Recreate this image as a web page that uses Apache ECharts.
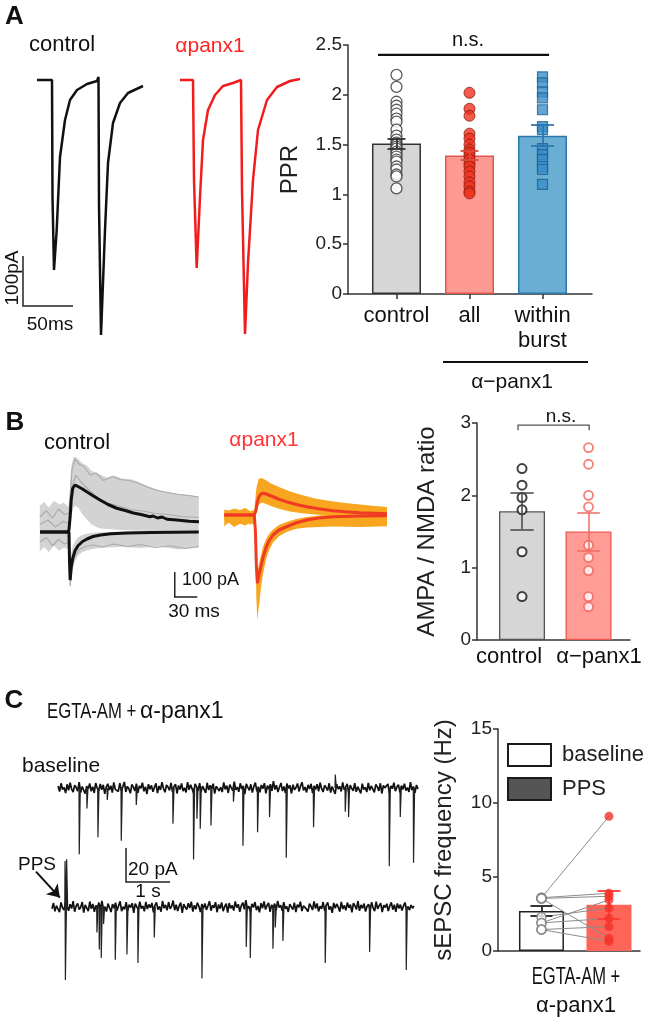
<!DOCTYPE html>
<html><head><meta charset="utf-8">
<script src="https://cdn.jsdelivr.net/npm/echarts@6/dist/echarts.min.js"></script>
<style>html,body{margin:0;padding:0;background:#fff}#c{width:656px;height:1020px}</style>
</head><body><div id="c"></div>
<script>
// ================= DATA =================
// ---- Panel A: paired-pulse traces (t in ms, current in pA) ----
const traceAControl = [[37,0],[52,0],[52.5,-234],[54,-380],[56.7,-300],[60,-154],[65,-80],[70,-40],[77,-20],[87,-8],[97,-2],[98,0],[98.5,6],[99,-250],[101,-510],[105,-300],[108,-166],[113,-86],[120,-46],[128,-26],[143,-12]];
const traceAPanx = [[180,0],[193,0],[194,-200],[196.7,-376],[200,-234],[203,-120],[208,-60],[215,-30],[223,-12],[233,-6],[241,0],[241.5,4],[242,-220],[245,-508],[248,-366],[253,-200],[258,-100],[267,-40],[277,-14],[290,-2],[300,2]];
const scaleBarA = [23, -452, 50, 100];           // t0, v0, 50 ms, 100 pA
// ---- Panel A: PPR bar chart ----
const pprCategories = ['control', 'all', 'within\nburst'];
const pprMeans = [1.51, 1.39, 1.59];
const pprSems = [0.05, 0.045, 0.105];
const pprControl = [2.2,2.08,1.93,1.89,1.85,1.81,1.76,1.73,1.65,1.59,1.55,1.52,1.5,1.48,1.46,1.43,1.41,1.38,1.35,1.33,1.28,1.25,1.2,1.18,1.06];
const pprAll = [2.02,1.86,1.79,1.61,1.56,1.5,1.45,1.42,1.39,1.35,1.31,1.28,1.23,1.18,1.12,1.08,1.03,1.01];
const pprBurst = [2.18,2.12,2.03,1.97,1.85,1.68,1.65,1.46,1.4,1.35,1.28,1.25,1.1];
const pprSigLevel = 2.4;
// ---- Panel B: AMPA/NMDA traces (t in ms from stimulus, pA) ----
const traceBCtrlUp = [[-38.7,0],[-1,0],[0,10],[1.5,60],[3,130],[5,175],[8,188],[12,182],[18,172],[23.6,161],[32,145],[41.3,128],[52,110],[63.6,95],[75,86],[85.8,76],[96,70],[108,61],[112,64],[118,56],[124,60],[130.7,51],[140,49],[150,46],[160,43],[173.3,41]];
const traceBCtrlDown = [[-38.7,0],[0,0],[0.7,-120],[1.5,-192],[3,-140],[5,-105],[8,-75],[12,-55],[18,-38],[24,-28],[32,-18],[42,-12],[56,-7],[78,-4],[110,-2],[173,0]];
const greyUpperBand = [[-39,10,105],[-33,0,120],[-27,8,98],[-20,-5,125],[-13,6,110],[-7,-3,118],[-1,5,100],[1,10,160],[3,60,260],[6,100,300],[9,105,300],[13,95,290],[18,70,275],[24,50,265],[30,30,245],[40,15,232],[50,12,218],[60,10,226],[70,8,214],[85,6,210],[100,5,190],[115,4,172],[130,3,160],[145,2,152],[160,2,148],[173,1,142]];
const greyLowerBand = [[-39,-78,4],[-33,-60,8],[-27,-80,2],[-20,-55,6],[-13,-75,10],[-7,-62,3],[-1,-70,6],[0.5,-120,-10],[1.5,-228,-110],[3,-200,-85],[5,-150,-55],[8,-118,-38],[12,-95,-22],[18,-80,-12],[25,-72,-6],[35,-66,-2],[50,-62,0],[70,-60,2],[95,-64,3],[120,-58,2],[145,-70,4],[173,-62,2]];
const greyTraces = [
  [[-39,60],[-30,85],[-22,55],[-14,92],[-6,70],[0,75],[4,250],[8,292],[14,270],[20,262],[28,228],[36,236],[46,206],[58,222],[68,210],[80,206],[92,196],[104,180],[118,166],[132,158],[146,150],[160,146],[173,140]],
  [[-39,-40],[-30,-22],[-22,-55],[-14,-30],[-6,-48],[0,-40],[1.5,-215],[4,-130],[8,-95],[14,-70],[22,-58],[32,-52],[45,-60],[60,-48],[78,-58],[96,-50],[115,-62],[135,-55],[155,-66],[173,-58]],
  [[-39,30],[-28,48],[-18,20],[-8,42],[0,35],[4,180],[9,228],[16,200],[26,170],[38,138],[52,116],[66,104],[82,90],[98,84],[115,74],[132,70],[150,62],[173,58]]
];
const traceBPanxUp = [[-41,0],[-1,0],[1,15],[3,50],[5,72],[8,84],[11,87],[16,83],[24,73],[32,63],[42,53],[55,42],[69,33],[85,25],[104,17],[120,13],[140,9],[160,7],[176,5]];
const traceBPanxDown = [[-41,0],[-1,0],[0.5,-60],[1.8,-200],[3.1,-273],[5,-245],[8,-205],[11,-167],[15,-128],[19,-102],[24,-80],[32,-60],[42,-47],[55,-31],[69,-20],[85,-12],[104,-7],[140,-4],[176,-3]];
const orangeUpperBand = [[-41,-20,22],[-35,-30,18],[-28,-15,26],[-20,-35,20],[-13,-18,28],[-6,-40,15],[-1,-20,20],[2,10,110],[5,40,145],[9,50,148],[14,45,140],[22,35,125],[32,25,112],[45,15,96],[60,8,82],[80,2,66],[100,-2,56],[120,-6,48],[140,-8,42],[160,-10,36],[176,-12,32]];
const orangeLowerBand = [[-41,-45,5],[-35,-30,8],[-28,-48,3],[-20,-35,6],[-13,-42,4],[-6,-30,8],[-1,-40,5],[0.5,-120,-10],[1.8,-330,-150],[3.1,-420,-230],[5,-370,-200],[8,-290,-160],[11,-230,-125],[15,-175,-95],[19,-140,-75],[24,-110,-58],[32,-85,-40],[42,-68,-28],[55,-55,-16],[69,-50,-8],[85,-48,-2],[104,-46,2],[140,-48,4],[176,-45,6]];
const scaleBarB = [141, -260, 30, 100];          // t0, v0, 30 ms, 100 pA
// ---- Panel B: AMPA/NMDA ratio bars ----
const ampaCategories = ['control', 'α−panx1'];
const ampaMeans = [1.78, 1.5];
const ampaSems = [0.25, 0.26];
const ampaControl = [2.37, 2.14, 1.97, 1.8, 1.22, 0.6];
const ampaPanx = [2.66, 2.43, 2.0, 1.84, 1.31, 1.14, 0.96, 0.6, 0.46];
const ampaSig = [-0.06, 1.01, 2.9, 2.97];        // x from, x to, tick bottom, bracket top
// ---- Panel C: sEPSC traces (t in s, pA) ----
const baseTraceSpan = [1.32, 9.5];
const noiseBase = [
 1.2,-2.1,2.8,-0.9,0.4,-3.0,2.2,-1.4,3.1,-0.6, -2.4,1.7,0.3,-1.8,3.5,-2.6,0.9,2.0,-3.3,1.1,
 -0.5,2.7,-1.9,0.8,-2.9,3.0,-0.2,-1.6,2.4,-1.0, 1.9,-3.4,0.6,2.5,-1.2,1.4,-2.7,3.3,-0.8,0.2,
 -2.0,2.9,-1.5,0.7,3.6,-2.3,1.0,-0.4,-3.1,2.1, 0.5,-1.7,2.6,-2.8,1.3,-0.1,3.2,-1.9,0.8,-3.5,
 2.3,-0.7,1.6,-2.2,0.4,2.8,-3.0,1.2,-1.1,3.4, -0.3,-2.5,1.8,0.6,-1.4,3.0,-2.4,0.9,2.2,-3.2,
 1.5,-0.9,2.7,-1.8,0.1,-2.6,3.5,-1.0,1.9,-0.5, -3.0,2.4,0.7,-1.6,2.9,-2.1,1.1,0.3,-2.8,3.1,
 -1.2,1.6,-0.4,2.6,-3.3,1.0,2.1,-1.7,0.5,-2.4, 3.3,-0.8,1.4,-2.9,2.0,0.2,-1.5,3.7,-1.1,0.6,
 -2.2,2.8,-0.6,1.2,-3.6,2.5,0.4,-1.3,2.2,-2.7, 1.0,3.2,-1.9,0.7,-2.5,1.8,-0.3,2.9,-3.1,1.4,
 -0.7,2.3,-1.6,4.1,-0.9,1.7,-2.3,0.5,3.0,-1.8, 0.9,-2.9,2.6,-0.2,1.5,-3.2,2.0,-1.1,0.3,2.7,
 -2.0,1.1,3.4,-1.4,0.6,-2.6,1.9,-0.5,2.5,-3.0, 1.3,-0.8,2.2,-1.9,3.1,-0.4,-2.3,1.6,0.2,-1.5,
 2.8,-2.7,0.9,1.5,-3.4,2.3,-0.6,1.0,-2.0,3.3, -1.1,0.5,2.4,-2.8,1.7,-0.3,-1.6,2.9,-2.2,0.8,
 1.9,-3.1,2.6,-0.9,0.4,-2.4,3.0,-1.3,1.2,-0.6, -2.5,2.1,0.7,-1.7,2.8,-3.2,1.5,0.1,-1.0,2.4,
 -2.9,1.3,-0.4,3.2,-1.8,0.6,2.0,-2.6,1.4,-0.8, 2.6,-1.5,0.3,-2.3,3.5,-1.2,0.9,-2.8,1.8,-0.5];
const spikesBase = [[1.795,-39],[1.97,-12],[2.22,-29],[2.432,-7],[2.75,-31],[3.091,-10],[3.925,-21],[4.393,-42],[4.47,-18],[4.545,-24],[4.789,-22],[5.3,-8],[5.516,-34],[5.848,-26],[6.12,-17],[6.5,-41],[7.12,-23],[7.614,8],[7.841,-14],[7.916,-17],[8.841,-46],[9.091,-17],[9.393,-44]];
const ppsTraceSpan = [1.18, 9.41];
const noisePPS = [
 -1.0,2.4,-2.6,0.8,1.9,-3.1,2.7,-0.5,-1.8,3.0, 0.4,-2.2,1.6,-0.9,3.4,-2.8,0.6,2.1,-1.5,-0.2,
 2.9,-3.3,1.2,0.5,-2.4,3.2,-1.1,1.8,-2.9,0.9, -0.6,2.6,-1.9,3.6,-1.3,0.2,-2.7,2.0,1.1,-3.0,
 1.7,-0.8,2.5,-2.1,0.7,3.3,-2.5,0.1,-1.4,2.8, -2.3,1.4,-0.3,2.2,-3.5,1.9,0.8,-1.7,3.1,-0.9,
 0.6,-2.6,3.0,-1.2,1.5,-0.4,2.4,-3.2,1.0,2.7, -1.6,0.3,-2.8,3.5,-0.7,1.2,-2.0,2.9,-1.1,0.4,
 3.8,-1.9,1.3,-2.4,0.6,2.6,-3.4,1.7,-0.2,-1.5, 2.2,-0.6,3.1,-2.7,1.0,-1.3,2.5,0.4,-3.0,1.8,
 -0.9,2.0,-1.7,0.7,3.4,-2.2,1.1,-0.5,2.8,-3.1, 1.5,-1.0,2.7,-2.5,0.2,1.9,-3.3,2.3,-0.8,0.9,
 -2.1,3.3,-0.4,1.6,-2.9,0.8,2.6,-1.4,4.0,-1.2, 0.5,-2.6,1.8,-0.3,2.9,-1.9,0.6,-3.2,2.2,-0.7,
 3.2,-1.5,0.9,2.4,-2.8,1.3,-0.6,2.0,-1.8,3.6, -0.4,1.1,-2.3,2.8,-1.0,0.3,-2.9,1.7,0.8,-1.6,
 2.5,-3.0,1.4,-0.2,3.1,-2.4,0.7,1.6,-1.3,-2.7, 1.9,0.4,-1.8,3.3,-0.9,2.1,-2.6,0.5,-1.1,2.9,
 -2.2,1.0,2.7,-1.5,0.3,-3.4,2.4,-0.7,1.8,-0.1, -2.8,3.0,-1.2,0.9,-2.0,2.6,-0.5,1.4,-3.1,2.2,
 0.7,-1.4,3.5,-2.3,1.2,-0.8,2.0,-2.7,0.4,1.6, -1.9,2.8,-0.6,-2.5,3.1,-1.1,0.8,2.3,-3.0,1.0,
 -0.3,1.9,-2.4,0.6,2.7,-1.6,1.3,-2.9,2.1,-0.8, 1.4,-2.1,0.5,2.6,-1.3,0.2,-1.8,1.1,-0.7,0.6];
const spikesPPS = [[1.472,27],[1.508,28],[1.48,-43],[2.197,-15],[2.25,-25],[2.295,-30],[2.348,-10],[2.614,-31],[2.879,-28],[3.129,-33],[3.5,-18],[4.584,-42],[5.591,-23.5],[5.682,-30],[6.197,-24.5],[6.25,-12],[6.424,-20],[7.386,-33],[8.394,-26.5],[9.227,-37]];
const scaleBarC = [2.864, -55.3, 1, 20];         // t0, v0, 1 s, 20 pA
const ppsArrow = [[0.818, 20.8], [1.36, 5.5]];
// ---- Panel C: sEPSC frequency bars ----
const freqCategories = ['baseline', 'PPS'];
const freqMeans = [2.7, 3.12];
const freqSems = [0.33, 0.93];
const freqBaseline = [3.6, 3.6, 3.55, 3.55, 2.3, 1.9, 1.9, 1.45, 1.45];
const freqPPS = [9.1, 3.9, 3.7, 0.85, 2.9, 2.2, 3.45, 1.65, 0.65];

// ================= STYLE / BUILD =================
const FF = "'Liberation Sans', Arial, Helvetica, sans-serif";
const chart = echarts.init(document.getElementById('c'), null, {renderer: 'canvas'});

const hiddenAxis = (gi, min, max) => ({gridIndex: gi, type: 'value', min, max, show: false});
const line = (gi, data, color, width, z) => ({type: 'line', xAxisIndex: gi, yAxisIndex: gi, data, showSymbol: false, symbol: 'none', lineStyle: {color, width}, z: z || 3, silent: true});
const linesSeries = (gi, data, color, width, extra) => Object.assign({type: 'lines', coordinateSystem: 'cartesian2d', xAxisIndex: gi, yAxisIndex: gi, polyline: true, data, lineStyle: {color, width, opacity: 1}, z: 5, silent: true}, extra || {});
const scaleBar = (gi, s) => linesSeries(gi, [{coords: [[s[0], s[1] + s[3]], [s[0], s[1]], [s[0] + s[2], s[1]]]}], '#222', 1.5);
const band = (gi, pts, color) => ({
  type: 'custom', xAxisIndex: gi, yAxisIndex: gi, coordinateSystem: 'cartesian2d', silent: true, z: 1,
  data: pts, encode: {x: 0, y: [1, 2]},
  renderItem: (params, api) => {
    if (params.dataIndex !== 0) return null;
    const up = pts.map(p => api.coord([p[0], p[2]]));
    const lo = pts.slice().reverse().map(p => api.coord([p[0], p[1]]));
    return {type: 'polygon', shape: {points: up.concat(lo)}, style: {fill: color}};
  }
});
const errBars = (gi, means, sems, caps, colors, width) => linesSeries(gi,
  means.flatMap((m, i) => {
    const lo = m - sems[i], hi = m + sems[i], w = caps[i], c = colors[i];
    return [{coords: [[i, lo], [i, hi]], lineStyle: {color: c}},
            {coords: [[i - w, hi], [i + w, hi]], lineStyle: {color: c}},
            {coords: [[i - w, lo], [i + w, lo]], lineStyle: {color: c}}];
  }), '#222', width, {polyline: false, z: 6});
const sampled = (span, vals) => vals.map((v, i) => [span[0] + i * (span[1] - span[0]) / (vals.length - 1), v]);
const spikeLines = (gi, spikes) => linesSeries(gi, spikes.map(([t, a]) => ({coords: [[t, 0], [t + 0.006, a], [t + 0.03, 0]]})), '#222', 1.2, {z: 4});
const barAxisY = (gi, max, interval, name, gap) => ({
  gridIndex: gi, type: 'value', min: 0, max, interval,
  axisLine: {show: true, onZero: false, lineStyle: {color: '#333', width: 1.5}},
  axisTick: {show: true, length: 5, lineStyle: {color: '#333', width: 1.5}},
  axisLabel: {fontSize: 19, color: '#222', margin: 6, fontFamily: FF},
  splitLine: {show: false},
  name, nameLocation: 'middle', nameGap: gap, nameTextStyle: {fontSize: 24, color: '#222', fontFamily: FF}
});
const T = (text, x, y, size, o) => {
  o = o || {};
  return {type: 'text', x, y, rotation: o.rot || 0, scaleX: o.sx || 1, silent: true,
    style: {text, fontSize: size, fontFamily: FF, fontWeight: o.fw || 'normal', fill: o.fill || '#111',
            align: o.align || 'center', verticalAlign: 'middle'}};
};

const option = {
  animation: false,
  textStyle: {fontFamily: FF},
  grid: [
    {left: 0, top: 60, width: 310, height: 300},     // 0 A traces
    {left: 348, top: 45, width: 244, height: 249},   // 1 A bars
    {left: 30, top: 440, width: 180, height: 180},   // 2 B control traces
    {left: 216, top: 440, width: 183, height: 180},  // 3 B panx traces
    {left: 477, top: 423, width: 153, height: 217},  // 4 B bars
    {left: 0, top: 760, width: 430, height: 130},    // 5 C baseline trace
    {left: 0, top: 850, width: 430, height: 150},    // 6 C PPS trace
    {left: 498, top: 729, width: 142, height: 222}   // 7 C bars
  ],
  xAxis: [
    hiddenAxis(0, 0, 310),
    {gridIndex: 1, type: 'value', min: -0.664, max: 2.678,
     axisLine: {show: true, onZero: false, lineStyle: {color: '#333', width: 1.5}},
     axisTick: {show: true, customValues: [0, 1, 2], length: 5, lineStyle: {color: '#333', width: 1.5}},
     axisLabel: {customValues: [0, 1, 2], formatter: v => pprCategories[Math.round(v)], fontSize: 22, color: '#111', margin: 9, lineHeight: 25, fontFamily: FF},
     splitLine: {show: false}},
    hiddenAxis(2, -52, 188),
    hiddenAxis(3, -52, 192),
    {gridIndex: 4, type: 'value', min: -0.677, max: 1.624,
     axisLine: {show: true, onZero: false, lineStyle: {color: '#333', width: 1.5}},
     axisTick: {show: false}, axisLabel: {show: false}, splitLine: {show: false}},
    hiddenAxis(5, 0, 9.773),
    hiddenAxis(6, 0, 9.773),
    {gridIndex: 7, type: 'value', min: -0.644, max: 1.46,
     axisLine: {show: true, onZero: false, lineStyle: {color: '#333', width: 1.5}},
     axisTick: {show: false}, axisLabel: {show: false}, splitLine: {show: false}}
  ],
  yAxis: [
    hiddenAxis(0, -560, 40),
    barAxisY(1, 2.5, 0.5, 'PPR', 46),
    hiddenAxis(2, -352, 368),
    hiddenAxis(3, -420, 300),
    barAxisY(4, 3, 1, 'AMPA / NMDA ratio', 38),
    hiddenAxis(5, -60, 16.5),
    hiddenAxis(6, -54.7, 33.5),
    barAxisY(7, 15, 5, 'sEPSC frequency (Hz)', 42)
  ],
  legend: {
    left: 502, top: 738, orient: 'vertical', icon: 'rect', itemWidth: 43, itemHeight: 22, itemGap: 10,
    selectedMode: false,
    data: [
      {name: freqCategories[0], itemStyle: {color: '#fff', borderColor: '#1a1a1a', borderWidth: 2}},
      {name: freqCategories[1], itemStyle: {color: '#555', borderColor: '#1a1a1a', borderWidth: 2}}
    ],
    textStyle: {fontSize: 22, color: '#222', fontFamily: FF, padding: [0, 0, 0, 6]}
  },
  series: [
    // ---- A traces
    line(0, traceAControl, '#111', 2.5),
    line(0, traceAPanx, '#f21c1c', 2.5),
    scaleBar(0, scaleBarA),
    // ---- A bars
    {type: 'bar', xAxisIndex: 1, yAxisIndex: 1, barWidth: 49, z: 2, silent: true,
     data: pprMeans.map((m, i) => ({value: [i, m], itemStyle: {color: ['#d6d6d6', '#fd9a93', '#6aaed3'][i], borderColor: ['#333', '#e0564c', '#2a78ad'][i], borderWidth: 1.5}}))},
    {type: 'scatter', xAxisIndex: 1, yAxisIndex: 1, data: pprControl.map(v => [0, v]), symbol: 'circle', symbolSize: 11, z: 3, silent: true,
     itemStyle: {color: '#fff', borderColor: '#333', borderWidth: 1.3}},
    {type: 'scatter', xAxisIndex: 1, yAxisIndex: 1, data: pprAll.map(v => [1, v]), symbol: 'circle', symbolSize: 11, z: 3, silent: true,
     itemStyle: {color: '#f0321e', borderColor: '#8a1a10', borderWidth: 1}},
    {type: 'scatter', xAxisIndex: 1, yAxisIndex: 1, data: pprBurst.map(v => [2, v]), symbol: 'rect', symbolSize: 10, z: 3, silent: true,
     itemStyle: {color: '#3b8fc8', borderColor: '#1d5f92', borderWidth: 1.2}},
    errBars(1, pprMeans, pprSems, [0.123, 0.123, 0.157], ['#333', '#e04a40', '#2f77b0'], 1.8),
    linesSeries(1, [{coords: [[-0.253, pprSigLevel], [2.09, pprSigLevel]]}], '#111', 2.2),
    // ---- B traces
    band(2, greyUpperBand, '#d3d3d3'),
    band(2, greyLowerBand, '#d3d3d3'),
    ...greyTraces.map(tr => line(2, tr, '#ababab', 1.2, 2)),
    line(2, traceBCtrlUp, '#111', 3),
    line(2, traceBCtrlDown, '#111', 3),
    scaleBar(2, scaleBarB),
    band(3, orangeUpperBand, '#f8a51f'),
    band(3, orangeLowerBand, '#f8a51f'),
    line(3, traceBPanxUp, '#ef3b24', 3),
    line(3, traceBPanxDown, '#ef3b24', 3),
    // ---- B bars
    {type: 'bar', xAxisIndex: 4, yAxisIndex: 4, barWidth: 46, z: 2, silent: true,
     data: ampaMeans.map((m, i) => ({value: [i, m], itemStyle: {color: ['#d6d6d6', '#ff9c95'][i], borderColor: ['#555', '#e95a50'][i], borderWidth: 1.3}}))},
    {type: 'scatter', xAxisIndex: 4, yAxisIndex: 4, data: ampaControl.map(v => [0, v]), symbolSize: 9, z: 3, silent: true,
     itemStyle: {color: '#fff', borderColor: '#111', borderWidth: 2}},
    {type: 'scatter', xAxisIndex: 4, yAxisIndex: 4, data: ampaPanx.map(v => [1, v]), symbolSize: 9, z: 3, silent: true,
     itemStyle: {color: '#fff', borderColor: '#f0605a', borderWidth: 1.8}},
    errBars(4, ampaMeans, ampaSems, [0.175, 0.17], ['#444', '#f26a62'], 1.5),
    linesSeries(4, [{coords: [[ampaSig[0], ampaSig[2]], [ampaSig[0], ampaSig[3]], [ampaSig[1], ampaSig[3]], [ampaSig[1], ampaSig[2]]]}], '#555', 1.3),
    // ---- C traces
    line(5, sampled(baseTraceSpan, noiseBase), '#111', 1.7),
    spikeLines(5, spikesBase),
    scaleBar(5, scaleBarC),
    line(6, sampled(ppsTraceSpan, noisePPS), '#111', 1.7),
    spikeLines(6, spikesPPS),
    linesSeries(6, [{coords: ppsArrow}], '#111', 2, {polyline: false, symbol: ['none', 'arrow'], symbolSize: [4, 12], z: 8}),
    // ---- C bars
    {name: freqCategories[0], type: 'bar', xAxisIndex: 7, yAxisIndex: 7, barWidth: 45, barGap: '-100%', z: 2, silent: true,
     data: [[0, freqMeans[0]]], itemStyle: {color: '#fff', borderColor: '#222', borderWidth: 1.5}},
    {name: freqCategories[1], type: 'bar', xAxisIndex: 7, yAxisIndex: 7, barWidth: 45, barGap: '-100%', z: 2, silent: true,
     data: [[1, freqMeans[1]]], itemStyle: {color: '#ff6459'}},
    linesSeries(7, freqBaseline.map((b, i) => ({coords: [[0, b], [1, freqPPS[i]]]})), '#8c8c8c', 1, {polyline: false, z: 3}),
    errBars(7, freqMeans, freqSems, [0.163, 0.17], ['#222', '#ff3b30'], 1.8),
    {type: 'scatter', xAxisIndex: 7, yAxisIndex: 7, data: freqBaseline.map(v => [0, v]), symbolSize: 9, z: 7, silent: true,
     itemStyle: {color: '#fff', borderColor: '#7a7a7a', borderWidth: 1.5}},
    {type: 'scatter', xAxisIndex: 7, yAxisIndex: 7, data: freqPPS.map(v => [1, v]), symbolSize: 9, z: 7, silent: true,
     itemStyle: {color: '#f33228'}}
  ],
  graphic: {elements: [
    T('A', 14.5, 17, 26, {fw: 'bold'}),
    T('control', 62, 45, 22),
    T('αpanx1', 210, 46, 21, {fill: '#f22'}),
    T('100pA', 12.5, 278, 19, {rot: Math.PI / 2}),
    T('50ms', 50, 325, 19),
    T('n.s.', 468, 40, 20),
    {type: 'line', silent: true, shape: {x1: 443, y1: 362, x2: 588, y2: 362}, style: {stroke: '#111', lineWidth: 2}},
    T('α−panx1', 512, 382, 21),
    T('B', 15, 423, 26, {fw: 'bold'}),
    T('control', 77, 443, 22),
    T('αpanx1', 264, 440, 21, {fill: '#f33'}),
    T('100 pA', 182, 580, 18, {align: 'left'}),
    T('30 ms', 194, 612, 19),
    T('n.s.', 561, 417, 19),
    T(ampaCategories[0], 509, 657, 22),
    T(ampaCategories[1], 599, 657, 22),
    T('C', 14, 701, 26, {fw: 'bold'}),
    T('EGTA-AM +', 47, 712, 22, {align: 'left', sx: 0.76}),
    T('α-panx1', 140, 712, 23, {align: 'left'}),
    T('baseline', 22, 766, 21, {align: 'left'}),
    T('PPS', 18, 865, 19, {align: 'left'}),
    T('20 pA', 128, 870, 19, {align: 'left'}),
    T('1 s', 148, 892, 19),
    T('EGTA-AM +', 576, 978, 23, {sx: 0.72}),
    T('α-panx1', 576, 1006, 22)
  ]}
};
chart.setOption(option);
</script>
</body></html>
